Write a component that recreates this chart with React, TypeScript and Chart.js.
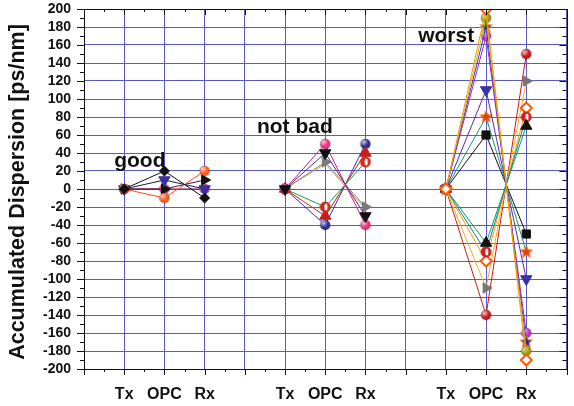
import { useEffect, useRef } from 'react';
import { Chart, registerables } from 'chart.js';

Chart.register(...registerables);

// ---- data -------------------------------------------------------------
// x categories: three groups of Tx / OPC / Rx, separated by blank slots
const categories = ['', 'Tx', 'OPC', 'Rx', '', 'Tx', 'OPC', 'Rx', '', 'Tx', 'OPC', 'Rx', ''];
const groupNames = ['good', 'not bad', 'worst'];

// accumulated dispersion at the transmitter (same for every trace)
const txDispersion = 0;

// accumulated dispersion [ps/nm] at the OPC and at the receiver, per trace
const goodOpc = [20, -10, 10, 0, 0];
const goodRx = [-10, 20, 0, 10, 0];

const notBadOpc = [40, 50, 30, 28, -20, -30, -40];
const notBadRx = [-30, -40, -20, -22, 30, 40, 50];

const worstOpc = [200, 190, 180, 170, 110, 80, 60, -60, -70, -80, -110, -140];
const worstRx = [-190, -180, -170, -160, -100, -70, -50, 70, 80, 90, 120, 150];

const yMin = -200;
const yMax = 200;
const yStep = 20;

// ---- styles -----------------------------------------------------------
type Marker = 'diamond' | 'openDiamond' | 'ball' | 'triDown' | 'triUp' | 'triRight' | 'star' | 'half' | 'square' | 'none';
interface TraceStyle { line: string; marker: Marker; color: string }

const goodStyles: TraceStyle[] = [
  { line: '#111111', marker: 'diamond', color: '#111111' },
  { line: '#ff4a1c', marker: 'ball', color: '#ff5a1a' },
  { line: '#1c1c3c', marker: 'triDown', color: '#3a2f9e' },
  { line: '#5a0f3a', marker: 'triRight', color: '#111111' },
  { line: '#7a1050', marker: 'ball', color: '#e0308a' },
];

const notBadStyles: TraceStyle[] = [
  { line: '#5a2a8a', marker: 'triDown', color: '#111111' },
  { line: '#d02080', marker: 'ball', color: '#f0307a' },
  { line: '#888888', marker: 'triRight', color: '#7a7a7a' },
  { line: '#d4a040', marker: 'none', color: '#d4a040' },
  { line: '#20a040', marker: 'half', color: '#cc2a1a' },
  { line: '#cc2020', marker: 'triUp', color: '#cc1a1a' },
  { line: '#3030b0', marker: 'ball', color: '#2d2d90' },
];

const worstStyles: TraceStyle[] = [
  { line: '#ff9a00', marker: 'openDiamond', color: '#ff5a00' },
  { line: '#c8c000', marker: 'ball', color: '#a09a10' },
  { line: '#3a3ad0', marker: 'star', color: '#2a2a9a' },
  { line: '#b020c0', marker: 'ball', color: '#c030d0' },
  { line: '#5a2ab0', marker: 'triDown', color: '#3a30a8' },
  { line: '#1a9a6a', marker: 'star', color: '#e04010' },
  { line: '#111111', marker: 'square', color: '#111111' },
  { line: '#109a70', marker: 'triUp', color: '#111111' },
  { line: '#0a8a8a', marker: 'half', color: '#cc2020' },
  { line: '#ff9a00', marker: 'openDiamond', color: '#ff5a00' },
  { line: '#ffaa20', marker: 'triRight', color: '#777777' },
  { line: '#cc1a1a', marker: 'ball', color: '#cc1a1a' },
];

// text anchors for the group captions, in axis units (category index, ps/nm)
const captionAnchors = [
  { x: 0.75, y: 25 },
  { x: 4.3, y: 62 },
  { x: 8.31, y: 163 },
];

const FONT = '"Liberation Sans", Arial, Helvetica, sans-serif';
const GRID = '#5b5bc8';

// ---- marker sprites ---------------------------------------------------
function sprite(size: number, draw: (ctx: CanvasRenderingContext2D, c: number) => void) {
  const cv = document.createElement('canvas');
  cv.width = size;
  cv.height = size;
  const ctx = cv.getContext('2d')!;
  draw(ctx, size / 2);
  return cv;
}

function ballSprite(color: string, r: number) {
  return sprite(Math.ceil(r * 2 + 2), (ctx, c) => {
    ctx.beginPath();
    ctx.arc(c, c, r, 0, Math.PI * 2);
    ctx.fillStyle = color;
    ctx.fill();
    const g = ctx.createRadialGradient(c - r * 0.35, c - r * 0.4, 0, c - r * 0.35, c - r * 0.4, r * 0.9);
    g.addColorStop(0, 'rgba(255,255,255,0.75)');
    g.addColorStop(1, 'rgba(255,255,255,0)');
    ctx.fillStyle = g;
    ctx.fill();
    ctx.lineWidth = 1;
    ctx.strokeStyle = 'rgba(0,0,0,0.25)';
    ctx.stroke();
  });
}

function halfSprite(color: string, r: number) {
  return sprite(Math.ceil(r * 2 + 2), (ctx, c) => {
    ctx.beginPath();
    ctx.arc(c, c, r, 0, Math.PI * 2);
    ctx.fillStyle = color;
    ctx.fill();
    ctx.beginPath();
    ctx.ellipse(c + r * 0.15, c, r * 0.3, r * 0.7, 0, 0, Math.PI * 2);
    ctx.fillStyle = '#ffffff';
    ctx.fill();
    ctx.beginPath();
    ctx.arc(c, c, r, 0, Math.PI * 2);
    ctx.lineWidth = 1;
    ctx.strokeStyle = color;
    ctx.stroke();
  });
}

function starSprite(color: string, r: number) {
  return sprite(Math.ceil(r * 2 + 2), (ctx, c) => {
    ctx.beginPath();
    for (let k = 0; k < 10; k++) {
      const rr = k % 2 === 0 ? r : r * 0.45;
      const a = -Math.PI / 2 + (k * Math.PI) / 5;
      const px = c + Math.cos(a) * rr;
      const py = c + Math.sin(a) * rr;
      if (k === 0) ctx.moveTo(px, py);
      else ctx.lineTo(px, py);
    }
    ctx.closePath();
    ctx.fillStyle = color;
    ctx.fill();
    ctx.lineWidth = 1;
    ctx.strokeStyle = '#ff7a20';
    ctx.stroke();
  });
}

function markerProps(style: TraceStyle) {
  const base = {
    pointBorderWidth: 1,
    pointBorderColor: style.color,
    pointBackgroundColor: style.color,
    pointRotation: 0,
    pointRadius: 5,
    pointStyle: 'circle' as any,
  };
  switch (style.marker) {
    case 'diamond':
      return { ...base, pointStyle: 'rectRot', pointRadius: 5 };
    case 'openDiamond':
      return { ...base, pointStyle: 'rectRot', pointRadius: 5.5, pointBorderWidth: 2, pointBackgroundColor: '#ffffff' };
    case 'ball':
      return { ...base, pointStyle: ballSprite(style.color, 5) };
    case 'half':
      return { ...base, pointStyle: halfSprite(style.color, 5) };
    case 'star':
      return { ...base, pointStyle: starSprite(style.color, 6.5) };
    case 'triDown':
      return { ...base, pointStyle: 'triangle', pointRadius: 6.5, pointRotation: 180 };
    case 'triUp':
      return { ...base, pointStyle: 'triangle', pointRadius: 6.5 };
    case 'triRight':
      return { ...base, pointStyle: 'triangle', pointRadius: 6, pointRotation: 90 };
    case 'square':
      return { ...base, pointStyle: 'rect', pointRadius: 5.8 };
    default:
      return { ...base, pointRadius: 0 };
  }
}

function stagePositions(stage: string) {
  return categories.map((c, i) => (c === stage ? i : -1)).filter((i) => i >= 0);
}

function buildDatasets() {
  const tx = stagePositions('Tx');
  const opc = stagePositions('OPC');
  const rx = stagePositions('Rx');
  const groups = [
    { opcValues: goodOpc, rxValues: goodRx, styles: goodStyles },
    { opcValues: notBadOpc, rxValues: notBadRx, styles: notBadStyles },
    { opcValues: worstOpc, rxValues: worstRx, styles: worstStyles },
  ];
  const out: any[] = [];
  groups.forEach((grp, g) => {
    grp.opcValues.forEach((opcValue, i) => {
      const data = categories.map((_, idx) => {
        if (idx === tx[g]) return txDispersion;
        if (idx === opc[g]) return opcValue;
        if (idx === rx[g]) return grp.rxValues[i];
        return null;
      });
      const style = grp.styles[i];
      out.push({
        label: `${groupNames[g]} ${i + 1}`,
        data,
        borderColor: style.line,
        borderWidth: 1,
        tension: 0,
        spanGaps: false,
        ...markerProps(style),
      });
    });
  });
  return out;
}

// frame, tick marks, group captions and the y-axis title
const decorations = {
  id: 'decorations',
  afterDraw(chart: any) {
    const { ctx, chartArea: a, scales } = chart;
    const xs = scales.x;
    const ys = scales.y;
    const px = (v: number) => Math.round(v) + 0.5;
    ctx.save();
    ctx.strokeStyle = '#111111';
    ctx.lineWidth = 1;
    ctx.beginPath();
    ctx.rect(px(a.left), px(a.top), Math.round(a.right) - Math.round(a.left), Math.round(a.bottom) - Math.round(a.top));
    ctx.stroke();

    ctx.beginPath();
    for (let v = yMin; v <= yMax; v += yStep / 2) {
      const major = v % yStep === 0;
      const len = major ? 7 : 4;
      const y = px(ys.getPixelForValue(v));
      ctx.moveTo(a.left - len, y);
      ctx.lineTo(a.left, y);
      ctx.moveTo(a.right - len, y);
      ctx.lineTo(a.right, y);
    }
    for (let i = 0; i <= categories.length - 1; i += 0.5) {
      const major = Number.isInteger(i);
      const len = major ? 6 : 3;
      const x = px(xs.getPixelForValue(i));
      ctx.moveTo(x, a.bottom);
      ctx.lineTo(x, a.bottom + len);
      ctx.moveTo(x, a.top);
      ctx.lineTo(x, a.top + len);
    }
    ctx.stroke();

    ctx.fillStyle = '#111111';
    ctx.font = `bold 21px ${FONT}`;
    ctx.textAlign = 'left';
    ctx.textBaseline = 'alphabetic';
    groupNames.forEach((name, g) => {
      const anchor = captionAnchors[g];
      ctx.fillText(name, xs.getPixelForValue(anchor.x), ys.getPixelForValue(anchor.y));
    });

    ctx.font = `bold 21.5px ${FONT}`;
    ctx.textAlign = 'center';
    ctx.translate(24, (a.top + a.bottom) / 2 + 3);
    ctx.rotate(-Math.PI / 2);
    ctx.fillText('Accumulated Dispersion [ps/nm]', 0, 0);
    ctx.restore();
  },
};

export default function App() {
  const canvasRef = useRef<HTMLCanvasElement | null>(null);

  useEffect(() => {
    document.body.style.margin = '0';
    const canvas = canvasRef.current;
    if (!canvas) return;
    const chart = new Chart(canvas, {
      type: 'line',
      data: { labels: categories, datasets: buildDatasets() },
      options: {
        animation: false,
        responsive: false,
        devicePixelRatio: 1,
        layout: { padding: { top: 9, right: 1, left: 0, bottom: 0 } },
        plugins: { legend: { display: false }, tooltip: { enabled: false } },
        scales: {
          x: {
            type: 'category',
            offset: false,
            grid: { color: GRID, lineWidth: 1, drawTicks: false },
            border: { display: false },
            ticks: {
              autoSkip: false,
              maxRotation: 0,
              padding: 16,
              color: '#111111',
              font: { family: FONT, size: 16, weight: 'bold' },
            },
            afterFit: (s: any) => {
              s.height = 37;
              s.paddingLeft = 0;
              s.paddingRight = 0;
            },
          },
          y: {
            min: yMin,
            max: yMax,
            grid: { color: GRID, lineWidth: 1, drawTicks: false },
            border: { display: false },
            ticks: {
              stepSize: yStep,
              autoSkip: false,
              padding: 13,
              color: '#111111',
              font: { family: FONT, size: 14, weight: 'bold' },
            },
            afterFit: (s: any) => {
              s.width = 84;
              s.paddingTop = 0;
              s.paddingBottom = 0;
            },
          },
        },
      } as any,
      plugins: [decorations],
    });
    return () => chart.destroy();
  }, []);

  return (
    <div style={{ position: 'fixed', left: 0, top: 0, width: 574, height: 406, background: '#ffffff' }}>
      <canvas ref={canvasRef} width={574} height={406} />
    </div>
  );
}
